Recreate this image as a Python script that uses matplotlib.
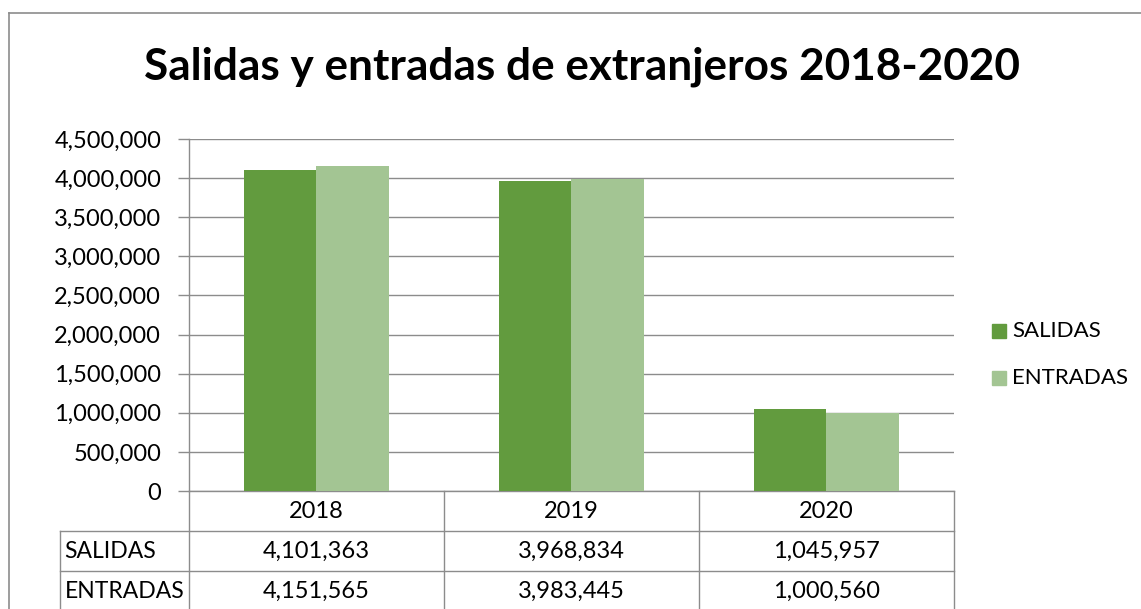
import matplotlib
matplotlib.use("Agg")
import numpy as np
import matplotlib.pyplot as plt
from matplotlib.lines import Line2D
from matplotlib.patches import Rectangle
import matplotlib.transforms as mtransforms
from matplotlib.ticker import FuncFormatter

############ data #############################################################

years = ['2018', '2019', '2020']
series_names = ['SALIDAS', 'ENTRADAS']
salidas = [4101363, 3968834, 1045957]
entradas = [4151565, 3983445, 1000560]
y_ticks = [0, 500000, 1000000, 1500000, 2000000, 2500000, 3000000, 3500000, 4000000, 4500000]

############ style #############################################################

plt.rcParams['font.family'] = ['Lato', 'DejaVu Sans']
dark_green = '#629B3E'
light_green = '#A3C593'
grid_gray = '#8C8C8C'
W, H = 1141, 609
fs = 17

def px(x, y):
    # pixel (from top-left) -> figure fraction
    return x / W, 1 - y / H

fig = plt.figure(figsize=(W / 100, H / 100), dpi=100)

# chart border (cut off on right/bottom like the screenshot)
fig.add_artist(Line2D([9 / W, 1], [1 - 13 / H] * 2, transform=fig.transFigure, color=grid_gray, lw=1.2))
fig.add_artist(Line2D([9 / W] * 2, [0, 1 - 13 / H], transform=fig.transFigure, color=grid_gray, lw=1.2))

left, right, top, bottom = 189, 954, 139, 491
ax = fig.add_axes([left / W, 1 - bottom / H, (right - left) / W, (bottom - top) / H])

x = np.arange(len(years))
bw = 0.283
ax.bar(x - bw / 2, salidas, bw, color=dark_green, zorder=3, label=series_names[0])
ax.bar(x + bw / 2, entradas, bw, color=light_green, zorder=3, label=series_names[1])

ax.set_xlim(-0.5, len(years) - 0.5)
ax.set_ylim(0, 4500000)
ax.set_yticks(y_ticks)
ax.yaxis.set_major_formatter(FuncFormatter(lambda v, p: '{:,.0f}'.format(v)))
ax.tick_params(axis='y', labelsize=fs, length=8, width=1, color=grid_gray, pad=12)
ax.set_xticks([])
ax.grid(axis='y', color=grid_gray, lw=1, zorder=0)
for s in ['top', 'right']:
    ax.spines[s].set_visible(False)
for s in ['left', 'bottom']:
    ax.spines[s].set_color(grid_gray)
    ax.spines[s].set_linewidth(1)

fig.text(582 / W, 1 - 67 / H, 'Salidas y entradas de extranjeros 2018-2020',
         ha='center', va='center', fontsize=31.8, fontweight='bold')

############ data table #############################################################

row_h = 40 / (bottom - top)  # one table row in axes units
trans = mtransforms.blended_transform_factory(ax.transData, ax.transAxes)
label_left = (60 - left) / (right - left)
n_rows = 3
# vertical lines between categories
for i in range(len(years) + 1):
    ax.add_line(Line2D([i - 0.5, i - 0.5], [0, -(n_rows + 0.1) * row_h], transform=trans,
                       color=grid_gray, lw=1, clip_on=False))
# left edge of row header column
ax.add_line(Line2D([label_left, label_left], [-row_h, -(n_rows + 0.1) * row_h], transform=ax.transAxes,
                   color=grid_gray, lw=1, clip_on=False))
for r in range(1, n_rows + 1):
    ax.add_line(Line2D([label_left, 1], [-r * row_h, -r * row_h], transform=ax.transAxes,
                       color=grid_gray, lw=1, clip_on=False))
for i, yr in enumerate(years):
    ax.text(i, -0.5 * row_h, yr, transform=trans, ha='center', va='center', fontsize=fs)
for r, (name, vals) in enumerate(zip(series_names, [salidas, entradas]), start=1):
    ax.text(label_left + 0.006, -(r + 0.5) * row_h, name, transform=ax.transAxes,
            ha='left', va='center', fontsize=fs - 0.5)
    for i, v in enumerate(vals):
        ax.text(i, -(r + 0.5) * row_h, '{:,}'.format(v), transform=trans,
                ha='center', va='center', fontsize=fs)

############ legend #############################################################

for k, (name, col) in enumerate(zip(series_names, [dark_green, light_green])):
    cy = 331 + k * 47
    x0, y0 = px(992, cy + 7)
    fig.add_artist(Rectangle((x0, y0), 14 / W, 14 / H, transform=fig.transFigure, color=col))
    tx, ty = px(1012, cy)
    fig.text(tx, ty, name, ha='left', va='center', fontsize=16)

fig.savefig('out.png', dpi=100)
